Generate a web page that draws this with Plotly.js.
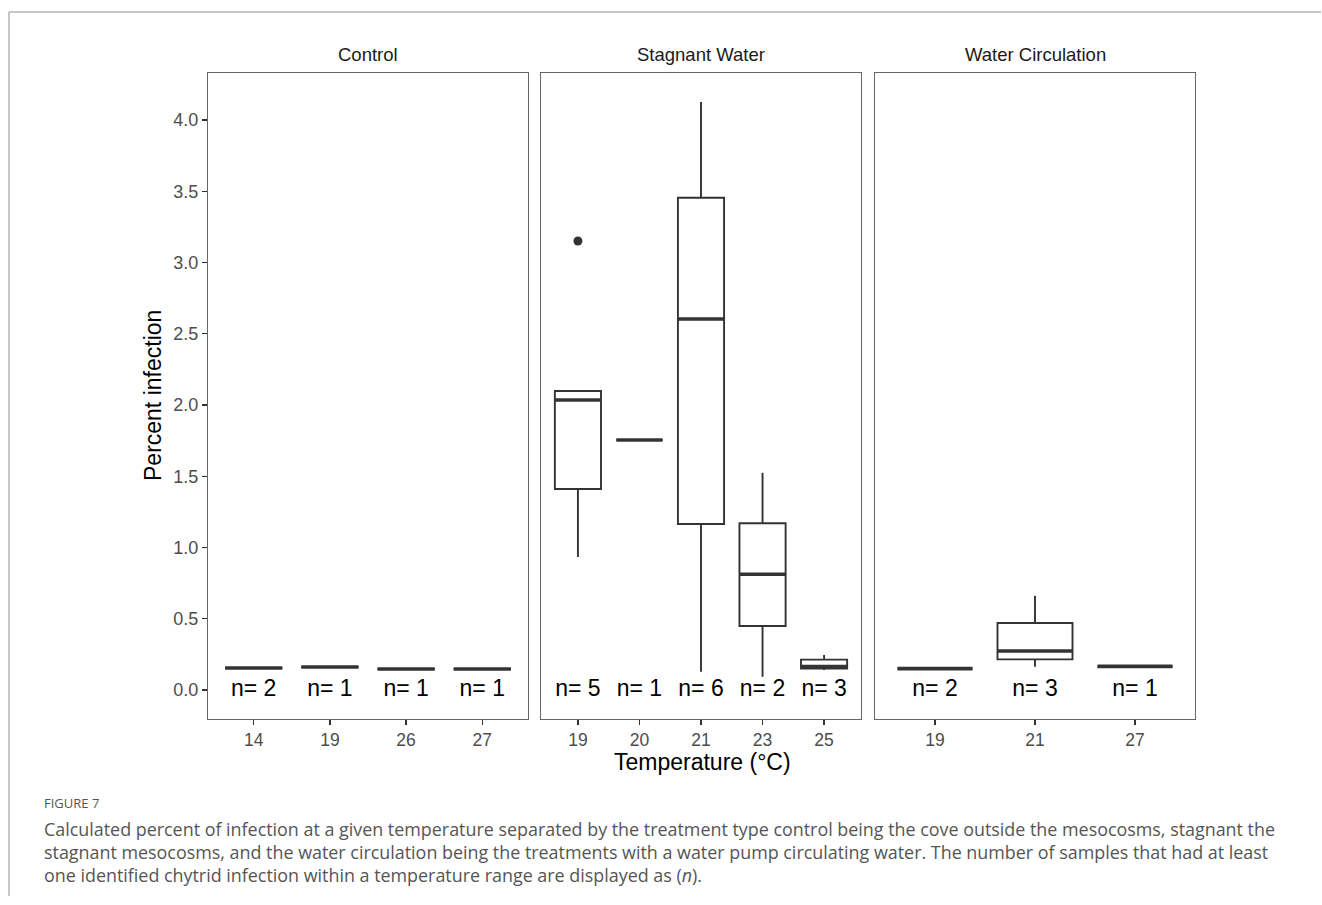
<!DOCTYPE html>
<html>
<head>
<meta charset="utf-8">
<script src="https://cdn.plot.ly/plotly-3.0.1.min.js"></script>
<style>
html,body{margin:0;padding:0;background:#fff;}
#chart{width:1322px;height:905px;}
</style>
</head>
<body>
<div id="chart"></div>
<script>
// ---- data ----
const panels = ['Control', 'Stagnant Water', 'Water Circulation'];
const temps = [
  ['14', '19', '26', '27'],
  ['19', '20', '21', '23', '25'],
  ['19', '21', '27']
];
const lowerWhisker = [
  [0.154, 0.161, 0.147, 0.147],
  [0.933, 1.754, 0.128, 0.093, 0.140],
  [0.150, 0.164, 0.166]
];
const q1 = [
  [0.154, 0.161, 0.147, 0.147],
  [1.411, 1.754, 1.165, 0.449, 0.150],
  [0.150, 0.215, 0.166]
];
const median = [
  [0.154, 0.161, 0.147, 0.147],
  [2.035, 1.754, 2.604, 0.812, 0.164],
  [0.150, 0.274, 0.166]
];
const q3 = [
  [0.154, 0.161, 0.147, 0.147],
  [2.098, 1.754, 3.455, 1.170, 0.213],
  [0.150, 0.470, 0.166]
];
const upperWhisker = [
  [0.154, 0.161, 0.147, 0.147],
  [2.098, 1.754, 4.126, 1.525, 0.246],
  [0.150, 0.662, 0.166]
];
const nCounts = [
  [2, 1, 1, 1],
  [5, 1, 6, 2, 3],
  [2, 3, 1]
];
// outliers: panel index, category index, value
const outlierPanel = [1];
const outlierCat = [0];
const outlierValue = [3.151];

const yTicks = [0.0, 0.5, 1.0, 1.5, 2.0, 2.5, 3.0, 3.5, 4.0];
const xTitle = 'Temperature (°C)';
const yTitle = 'Percent infection';
const figLabel = 'FIGURE 7';
const captionLines = [
  'Calculated percent of infection at a given temperature separated by the treatment type control being the cove outside the mesocosms, stagnant the',
  'stagnant mesocosms, and the water circulation being the treatments with a water pump circulating water. The number of samples that had at least',
  'one identified chytrid infection within a temperature range are displayed as (<i>n</i>).'
];

// ---- layout geometry ----
const W = 1322, H = 905;
const panelX = [[208, 528], [541, 861], [875, 1195]];
const plotTop = 73, plotBottom = 719;
const boxW = 0.75;
const dark = '#333333';
const FONT = 'Liberation Sans, Arial, sans-serif';

const traces = [];
panels.forEach((p, pi) => {
  const xa = pi === 0 ? 'x' : 'x' + (pi + 1);
  const ya = pi === 0 ? 'y' : 'y' + (pi + 1);
  const xs = temps[pi].map((t, i) => i + 1);
  traces.push({
    type: 'box',
    x: xs,
    q1: q1[pi], median: median[pi], q3: q3[pi],
    lowerfence: lowerWhisker[pi], upperfence: upperWhisker[pi],
    width: boxW,
    whiskerwidth: 0,
    fillcolor: '#ffffff',
    line: {color: dark, width: 1.9},
    boxpoints: false,
    hoverinfo: 'skip',
    xaxis: xa, yaxis: ya,
    showlegend: false
  });
  // thicker median segments
  const mx = [], my = [];
  xs.forEach((x, i) => {
    mx.push(x - boxW / 2, x + boxW / 2, null);
    my.push(median[pi][i], median[pi][i], null);
  });
  traces.push({
    type: 'scatter', mode: 'lines', x: mx, y: my,
    line: {color: dark, width: 3.6},
    xaxis: xa, yaxis: ya, showlegend: false, hoverinfo: 'skip'
  });
  // n labels
  traces.push({
    type: 'scatter', mode: 'text', x: xs, y: xs.map(() => 0),
    text: nCounts[pi].map(n => 'n= ' + n),
    textposition: 'middle center',
    textfont: {family: FONT, size: 23, color: '#000000'},
    xaxis: xa, yaxis: ya, showlegend: false, hoverinfo: 'skip', cliponaxis: false
  });
});
// outliers
outlierPanel.forEach((pi, k) => {
  traces.push({
    type: 'scatter', mode: 'markers',
    x: [outlierCat[k] + 1], y: [outlierValue[k]],
    marker: {color: dark, size: 9},
    xaxis: pi === 0 ? 'x' : 'x' + (pi + 1),
    yaxis: pi === 0 ? 'y' : 'y' + (pi + 1),
    showlegend: false, hoverinfo: 'skip'
  });
});

const yDomain = [1 - plotBottom / H, 1 - plotTop / H];
const yRange = [-0.2035, 4.33];
const layout = {
  width: W, height: H,
  margin: {l: 0, r: 0, t: 0, b: 0},
  paper_bgcolor: '#ffffff', plot_bgcolor: '#ffffff',
  font: {family: FONT},
  showlegend: false,
  annotations: [],
  shapes: [
    {type: 'line', xref: 'paper', yref: 'paper', x0: 9 / W, x1: 1321 / W, y0: 1 - 12 / H, y1: 1 - 12 / H, line: {color: '#b3b3b3', width: 1.5}},
    {type: 'line', xref: 'paper', yref: 'paper', x0: 9 / W, x1: 9 / W, y0: 1 - 12 / H, y1: 1 - 896 / H, line: {color: '#b3b3b3', width: 1.5}}
  ]
};
panels.forEach((p, pi) => {
  const xk = pi === 0 ? 'xaxis' : 'xaxis' + (pi + 1);
  const yk = pi === 0 ? 'yaxis' : 'yaxis' + (pi + 1);
  const n = temps[pi].length;
  layout[xk] = {
    domain: [panelX[pi][0] / W, panelX[pi][1] / W],
    anchor: pi === 0 ? 'y' : 'y' + (pi + 1),
    range: [0.4, n + 0.6],
    tickmode: 'array',
    tickvals: temps[pi].map((t, i) => i + 1),
    ticktext: temps[pi],
    ticks: 'outside', ticklen: 5, tickwidth: 1.3, tickcolor: dark,
    tickfont: {family: FONT, size: 17.5, color: '#4d4d4d'},
    showgrid: false, zeroline: false,
    showline: true, mirror: true, linecolor: '#666666', linewidth: 1.1,
    fixedrange: true
  };
  layout[yk] = {
    domain: yDomain,
    anchor: pi === 0 ? 'x' : 'x' + (pi + 1),
    range: yRange,
    tickmode: 'array',
    tickvals: yTicks,
    ticktext: yTicks.map(v => v.toFixed(1)),
    ticks: pi === 0 ? 'outside' : '',
    ticklen: 5, tickwidth: 1.3, tickcolor: dark,
    showticklabels: pi === 0,
    tickfont: {family: FONT, size: 18, color: '#4d4d4d'},
    showgrid: false, zeroline: false,
    showline: true, mirror: true, linecolor: '#666666', linewidth: 1.1,
    fixedrange: true
  };
  layout.annotations.push({
    xref: 'paper', yref: 'paper',
    x: (panelX[pi][0] + panelX[pi][1]) / 2 / W, y: 1 - 55 / H,
    text: p, showarrow: false, xanchor: 'center', yanchor: 'middle',
    font: {family: FONT, size: 18.5, color: '#1a1a1a'}
  });
});
// axis titles
layout.annotations.push({
  xref: 'paper', yref: 'paper', x: 702 / W, y: 1 - 762 / H,
  text: xTitle, showarrow: false, xanchor: 'center', yanchor: 'middle',
  font: {family: FONT, size: 23, color: '#000000'}
});
layout.annotations.push({
  xref: 'paper', yref: 'paper', x: 153 / W, y: 1 - 396 / H,
  text: yTitle, showarrow: false, textangle: -90, xanchor: 'center', yanchor: 'middle',
  font: {family: FONT, size: 23, color: '#000000'}
});
// caption
layout.annotations.push({
  xref: 'paper', yref: 'paper', x: 42 / W, y: 1 - 803 / H,
  text: figLabel, showarrow: false, xanchor: 'left', yanchor: 'middle',
  font: {family: 'Open Sans, sans-serif', size: 13, color: '#555555'}
});
const capY = [829, 852, 875];
captionLines.forEach((line, i) => {
  layout.annotations.push({
    xref: 'paper', yref: 'paper', x: 42 / W, y: 1 - capY[i] / H,
    text: line, showarrow: false, xanchor: 'left', yanchor: 'middle',
    font: {family: 'Open Sans, sans-serif', size: 17.9, color: '#555555'}
  });
});

Plotly.newPlot('chart', traces, layout, {displayModeBar: false, staticPlot: true});
</script>
</body>
</html>
